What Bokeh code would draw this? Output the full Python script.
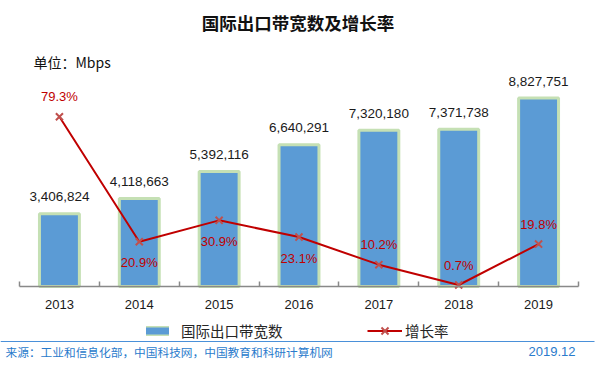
from bokeh.plotting import figure
from bokeh.models import Range1d, FixedTicker, Label, Legend, LegendItem, BoxAnnotation
from bokeh.embed import file_html
from bokeh.resources import INLINE
from bokeh.core.properties import value

# ---- data ----
years = ["2013", "2014", "2015", "2016", "2017", "2018", "2019"]
bandwidth = [3406824, 4118663, 5392116, 6640291, 7320180, 7371738, 8827751]
growth = [79.3, 20.9, 30.9, 23.1, 10.2, 0.7, 19.8]
growth_below = ["2014", "2015", "2016"]  # years whose % label sits under the point

title_text = "国际出口带宽数及增长率"
unit_text = "单位：Mbps"
bar_name = "国际出口带宽数"
line_name = "增长率"
source_text = "来源：工业和信息化部，中国科技网，中国教育和科研计算机网"
date_text = "2019.12"

# ---- styles / layout ----
BAR_FILL = "#5b9bd5"
BAR_EDGE = "#c5e0b4"
LINE_COL = "#c00000"
MARK_COL = "#c0504d"
AXIS_COL = "#898989"
SRC_COL = "#2a7bcc"
RULE_COL = "#4a90d9"
NUM_FONT = "Liberation Sans"
CJK_FONT = "Noto Sans CJK SC"

W, H = 596, 368          # canvas (frame covers all of it)
AX_L, AX_R = 19, 578     # pixel extent of the category axis
BASE = 286               # pixel row of the zero line (from top)
BAR_MAX = 13.4e6         # bar value at the top edge of the canvas
PCT_MAX = 133.6          # growth value at the top edge of the canvas

n = len(years)
step = (AX_R - AX_L) / n
xs = [i + 0.5 for i in range(n)]
below_frac = (H - BASE) / BASE
NAN = float("nan")

p = figure(title=None, frame_width=W, frame_height=H, output_backend="svg",
           toolbar_location=None,
           x_range=Range1d(-AX_L / step, n + (W - AX_R) / step),
           y_range=Range1d(-below_frac * BAR_MAX, BAR_MAX),
           y_axis_location=None,
           min_border_left=0, min_border_right=0, min_border_top=0, min_border_bottom=0)
p.extra_y_ranges = {"pct": Range1d(-below_frac * PCT_MAX, PCT_MAX)}
p.grid.visible = False
p.outline_line_color = None
p.background_fill_color = "white"
p.border_fill_color = "white"

# category axis: line at zero with boundary ticks pointing up
ax = p.xaxis[0]
ax.fixed_location = 0
ax.bounds = (0, n)
ax.ticker = FixedTicker(ticks=[], minor_ticks=list(range(n + 1)))
ax.major_label_standoff = 0
ax.major_tick_line_color = None
ax.major_tick_in = 0
ax.major_tick_out = 0
ax.minor_tick_in = 5
ax.minor_tick_out = 0
ax.minor_tick_line_color = AXIS_COL
ax.minor_tick_line_width = 1.5
ax.axis_line_color = AXIS_COL
ax.axis_line_width = 1.5

# category labels under the axis
p.text(x=xs, y=[0] * n, text=years, y_offset=18, text_align="center", text_baseline="middle",
       text_font=value(NUM_FONT), text_font_size="13px", text_color="#1a1a1a")

# bars
p.vbar(x=xs, top=bandwidth, width=0.5, fill_color=BAR_FILL, line_color=BAR_EDGE, line_width=3)
p.text(x=xs, y=bandwidth, text=[f"{v:,}" for v in bandwidth], y_offset=-17,
       text_align="center", text_baseline="middle", text_font=value(NUM_FONT),
       text_font_size="13.5px", text_color="#1a1a1a")

# growth line
line_r = p.line(xs, growth, y_range_name="pct", line_color=LINE_COL, line_width=2)
mark_r = p.scatter(xs, growth, y_range_name="pct", marker="x", size=10,
                   line_color=MARK_COL, line_width=2)

ab_x = [x for x, y in zip(xs, years) if y not in growth_below]
ab_v = [g for g, y in zip(growth, years) if y not in growth_below]
be_x = [x for x, y in zip(xs, years) if y in growth_below]
be_v = [g for g, y in zip(growth, years) if y in growth_below]
p.text(x=ab_x, y=ab_v, text=[f"{g}%" for g in ab_v], y_range_name="pct", y_offset=-20,
       text_align="center", text_baseline="middle", text_font=value(NUM_FONT),
       text_font_size="13px", text_color=LINE_COL)
p.text(x=be_x, y=be_v, text=[f"{g}%" for g in be_v], y_range_name="pct", y_offset=21,
       text_align="center", text_baseline="middle", text_font=value(NUM_FONT),
       text_font_size="13px", text_color=LINE_COL)

# legend (bar swatch: two stacked style-only lines with no visible points)
sw_edge = p.line(x=[NAN, NAN], y=[NAN, NAN], line_color=BAR_EDGE, line_width=10,
                 line_cap="square")
sw_fill = p.line(x=[NAN, NAN], y=[NAN, NAN], line_color=BAR_FILL, line_width=7,
                 line_cap="square")

common = dict(padding=0, margin=0, border_line_color=None, background_fill_alpha=0,
              glyph_height=25, label_text_font=CJK_FONT, label_text_font_size="14.5px",
              label_text_color="#262626", label_text_baseline="middle")
p.add_layout(Legend(items=[LegendItem(label=bar_name, renderers=[sw_edge, sw_fill])],
                    location=(146, H - 342.5), glyph_width=23, label_standoff=12, **common))
p.add_layout(Legend(items=[LegendItem(label=line_name, renderers=[line_r, mark_r])],
                    location=(367, H - 342.5), glyph_width=35, label_standoff=3, **common))

# texts
def scr_label(x, y_top, text, **kw):
    p.add_layout(Label(x=x, y=H - y_top, x_units="screen", y_units="screen", text=text,
                       text_baseline="middle", **kw))

scr_label(297.5, 22, title_text, text_align="center", text_font=CJK_FONT,
          text_font_size="17.5px", text_font_style="bold", text_color="#111111")
scr_label(33, 61, unit_text, text_align="left", text_font=CJK_FONT,
          text_font_size="14px", text_color="#111111")
scr_label(5, 351, source_text, text_align="left", text_font=CJK_FONT,
          text_font_size="11.7px", text_color=SRC_COL)
scr_label(575, 351, date_text, text_align="right", text_font=NUM_FONT,
          text_font_size="13px", text_color=SRC_COL)

p.add_layout(BoxAnnotation(left=0, right=594, top=H - 340.4, bottom=H - 341.6,
                           left_units="screen", right_units="screen",
                           top_units="screen", bottom_units="screen",
                           fill_color=RULE_COL, fill_alpha=1, line_color=None))

open("out.html", "w").write(file_html(p, INLINE))
